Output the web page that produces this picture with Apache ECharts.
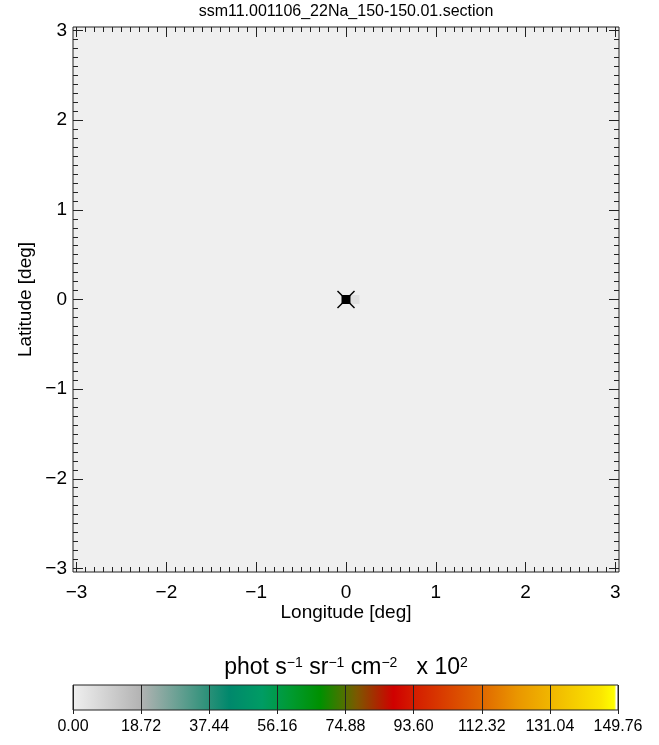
<!DOCTYPE html>
<html>
<head>
<meta charset="utf-8">
<script src="https://cdn.jsdelivr.net/npm/echarts@6/dist/echarts.min.js"></script>
<style>
  html, body { margin: 0; padding: 0; background: #fff; }
  #chart { width: 659px; height: 745px; }
</style>
</head>
<body>
<div id="chart"></div>
<script>
// axis ticks (deg)
const lonTicks = [-3, -2, -1, 0, 1, 2, 3];
const latTicks = [-3, -2, -1, 0, 1, 2, 3];
// map cells [lon, lat] and their intensity (x 10^2)
const cellLon = [0.1];
const cellLat = [0.0];
const cellVal = [5.0];
// source position
const srcLon = [0.0];
const srcLat = [0.0];
// colour bar
const cbMax = 149.76;
const cbStep = 18.72;
const cbStopVal = [0, 18.72, 37.44, 43, 52, 60, 68, 74, 78, 88, 93.6, 112.32, 122, 131.04, 145, 148.6, 149.2, 149.76];
const cbStopCol = ["#f0f0f0", "#b3b3b3", "#2a9078", "#00886c", "#009c64", "#009a30", "#009000", "#4a7400", "#7c5800", "#d00000", "#d41c00", "#e06800", "#ea9600", "#f0b600", "#fbe600", "#ffff00", "#ffffff", "#ffffff"];

const FONT = "Liberation Sans, Arial, sans-serif";
const lim = 3.04;
const minorTicks = [];
for (let i = -30; i <= 30; i++) minorTicks.push(Math.round(i) / 10);

function hex2rgb(h) {
  return [parseInt(h.substr(1, 2), 16), parseInt(h.substr(3, 2), 16), parseInt(h.substr(5, 2), 16)];
}
function colorAt(v) {
  if (v <= cbStopVal[0]) return cbStopCol[0];
  for (let i = 1; i < cbStopVal.length; i++) {
    if (v <= cbStopVal[i]) {
      const t = (v - cbStopVal[i - 1]) / (cbStopVal[i] - cbStopVal[i - 1]);
      const a = hex2rgb(cbStopCol[i - 1]), b = hex2rgb(cbStopCol[i]);
      const c = a.map((x, k) => Math.round(x + (b[k] - x) * t));
      return "rgb(" + c.join(",") + ")";
    }
  }
  return "#000000";
}
function fmtTick(v) {
  return v < 0 ? "\u2212" + Math.abs(v) : String(v);
}

const chart = echarts.init(document.getElementById("chart"));

const tickStyle = { color: "#222", width: 1 };
function lonAxis(pos, major, labels) {
  return {
    type: "value", gridIndex: 0, position: pos, min: -lim, max: lim,
    axisLine: { show: false, onZero: false },
    splitLine: { show: false },
    axisTick: { show: true, inside: true, length: major ? 10 : 5, lineStyle: tickStyle,
      customValues: major ? lonTicks : minorTicks },
    axisLabel: { show: labels, customValues: lonTicks, formatter: fmtTick,
      fontFamily: FONT, fontSize: 19, color: "#000", margin: 11 },
    name: labels ? "Longitude [deg]" : "",
    nameLocation: "middle", nameGap: 31, nameMoveOverlap: false,
    nameTextStyle: { fontFamily: FONT, fontSize: 19, color: "#000" }
  };
}
function latAxis(pos, major, labels) {
  return {
    type: "value", gridIndex: 0, position: pos, min: -lim, max: lim,
    axisLine: { show: false, onZero: false },
    splitLine: { show: false },
    axisTick: { show: true, inside: true, length: major ? 10 : 5, lineStyle: tickStyle,
      customValues: major ? latTicks : minorTicks },
    axisLabel: { show: labels, customValues: latTicks, formatter: fmtTick,
      fontFamily: FONT, fontSize: 19, color: "#000", margin: 6 },
    name: labels ? "Latitude [deg]" : "",
    nameLocation: "middle", nameGap: 38, nameRotate: 90, nameMoveOverlap: false,
    nameTextStyle: { fontFamily: FONT, fontSize: 19, color: "#000" }
  };
}

chart.setOption({
  backgroundColor: "#ffffff",
  animation: false,
  graphic: [
    {
      type: "text", x: 346, y: 4,
      style: { text: "ssm11.001106_22Na_150-150.01.section", fontFamily: FONT, fontSize: 16,
        fill: "#000", align: "center", verticalAlign: "top" }
    },
    {
      type: "text", x: 346, y: 668,
      style: {
        text: "{a|phot s}{s|\u22121}{a| sr}{s|\u22121}{a| cm}{s|\u22122}{a|   x 10}{s|2}",
        align: "center", verticalAlign: "middle",
        rich: {
          a: { fontFamily: FONT, fontSize: 23, fill: "#000" },
          s: { fontFamily: FONT, fontSize: 14, fill: "#000", verticalAlign: "top", padding: [0, 0, 10, 0] }
        }
      }
    }
  ],
  grid: [
    { left: 73, right: 40, top: 27, bottom: 173, show: true, backgroundColor: "#efefef",
      borderColor: "#222", borderWidth: 1 },
    { left: 73, right: 41, top: 685, bottom: 35, show: false }
  ],
  xAxis: [
    lonAxis("bottom", true, true),
    lonAxis("bottom", false, false),
    lonAxis("top", true, false),
    lonAxis("top", false, false),
    {
      type: "value", gridIndex: 1, min: 0, max: cbMax, interval: cbStep, z: 10,
      axisLine: { show: false },
      splitLine: { show: true, lineStyle: { color: "#222", width: 1 } },
      axisTick: { show: true, inside: false, length: 4, lineStyle: tickStyle },
      axisLabel: { show: true, formatter: (v) => v.toFixed(2), fontFamily: FONT, fontSize: 16,
        color: "#000", margin: 9, showMinLabel: true, showMaxLabel: true }
    }
  ],
  yAxis: [
    latAxis("left", true, true),
    latAxis("left", false, false),
    latAxis("right", true, false),
    latAxis("right", false, false),
    { type: "value", gridIndex: 1, min: 0, max: 1, show: false }
  ],
  series: [
    {
      type: "custom", xAxisIndex: 0, yAxisIndex: 0, z: 2,
      data: cellLon.map((x, i) => [x, cellLat[i], cellVal[i]]),
      renderItem: (params, api) => {
        const c = api.coord([api.value(0), api.value(1)]);
        const s = api.size([0.1, 0.1]);
        return {
          type: "rect",
          shape: { x: c[0] - s[0] / 2, y: c[1] - s[1] / 2, width: s[0], height: s[1] },
          style: { fill: colorAt(api.value(2)) }
        };
      }
    },
    {
      type: "custom", xAxisIndex: 0, yAxisIndex: 0, z: 3,
      data: srcLon.map((x, i) => [x, srcLat[i]]),
      renderItem: (params, api) => {
        const c = api.coord([api.value(0), api.value(1)]);
        const h = 4.5, d = 8.5;
        return {
          type: "group",
          children: [
            { type: "rect", shape: { x: c[0] - h, y: c[1] - h, width: 2 * h, height: 2 * h },
              style: { fill: "#000" } },
            { type: "line", shape: { x1: c[0] - d, y1: c[1] - d, x2: c[0] + d, y2: c[1] + d },
              style: { stroke: "#000", lineWidth: 1.5 } },
            { type: "line", shape: { x1: c[0] - d, y1: c[1] + d, x2: c[0] + d, y2: c[1] - d },
              style: { stroke: "#000", lineWidth: 1.5 } }
          ]
        };
      }
    },
    {
      type: "custom", xAxisIndex: 4, yAxisIndex: 4, z: 2,
      data: [[0, cbMax]],
      renderItem: (params, api) => {
        const p0 = api.coord([api.value(0), 1]);
        const p1 = api.coord([api.value(1), 0]);
        const stops = cbStopVal.map((v, i) => ({ offset: v / cbMax, color: cbStopCol[i] }));
        return {
          type: "rect",
          shape: { x: p0[0], y: p0[1], width: p1[0] - p0[0], height: p1[1] - p0[1] },
          style: {
            fill: new echarts.graphic.LinearGradient(0, 0, 1, 0, stops),
            stroke: "#222", lineWidth: 1
          }
        };
      }
    }
  ]
});
</script>
</body>
</html>
